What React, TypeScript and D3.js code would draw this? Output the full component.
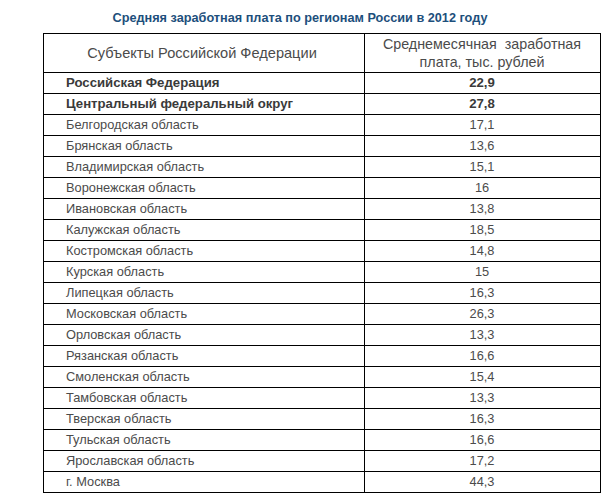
import React, { useRef, useEffect } from 'react';
import * as d3 from 'd3';

const title = 'Средняя заработная плата по регионам России в 2012 году';
const headerLeft = 'Субъекты Российской Федерации';
const headerRight = ['Среднемесячная  заработная', 'плата, тыс. рублей'];

const regions = [
  'Российская Федерация',
  'Центральный федеральный округ',
  'Белгородская область',
  'Брянская область',
  'Владимирская область',
  'Воронежская область',
  'Ивановская область',
  'Калужская область',
  'Костромская область',
  'Курская область',
  'Липецкая область',
  'Московская область',
  'Орловская область',
  'Рязанская область',
  'Смоленская область',
  'Тамбовская область',
  'Тверская область',
  'Тульская область',
  'Ярославская область',
  'г. Москва',
];

const wages = [
  22.9, 27.8, 17.1, 13.6, 15.1, 16, 13.8, 18.5, 14.8, 15, 16.3, 26.3, 13.3, 16.6, 15.4, 13.3, 16.3, 16.6, 17.2,
  44.3,
];

const boldRows = ['Российская Федерация', 'Центральный федеральный округ'];

const App = () => {
  const svgRef = useRef<SVGSVGElement>(null);
  const width = 606;
  const height = 494;

  useEffect(() => {
    const svg = d3.select(svgRef.current);
    svg.selectAll('*').remove();

    const left = 43;
    const right = 600;
    const divider = 364;
    const top = 33;
    const headerH = 39;
    const rowH = 21;

    const font = 'Arial, "Liberation Sans", sans-serif';
    const textColor = '#4b4b4b';

    // title
    svg.append('text')
      .attr('x', 300)
      .attr('y', 22)
      .attr('text-anchor', 'middle')
      .style('font-family', font)
      .style('font-size', '12.7px')
      .style('font-weight', 'bold')
      .style('fill', '#1d4f7c')
      .text(title);

    // rows
    const y = d3.scaleBand<string>()
      .domain(regions)
      .range([top + headerH, top + headerH + rowH * regions.length]);

    const fmt = (v: number) => String(v).replace('.', ',');

    // header
    svg.append('text')
      .attr('x', 202)
      .attr('y', top + headerH / 2 + 5)
      .attr('text-anchor', 'middle')
      .style('font-family', font)
      .style('font-size', '14.6px')
      .style('fill', textColor)
      .text(headerLeft);

    headerRight.forEach((line, i) => {
      svg.append('text')
        .attr('x', (divider + right) / 2)
        .attr('y', top + 16 + i * 18)
        .attr('text-anchor', 'middle')
        .style('font-family', font)
        .style('font-size', '14.3px')
        .style('fill', textColor)
        .style('white-space', 'pre')
        .text(line);
    });

    const rows = svg.selectAll('g.row')
      .data(regions)
      .enter()
      .append('g')
      .attr('class', 'row');

    const isBold = (d: string) => boldRows.includes(d);

    rows.append('text')
      .attr('x', left + 23)
      .attr('y', d => (y(d) as number) + rowH / 2 + 4.5)
      .style('font-family', font)
      .style('font-size', d => (isBold(d) ? '13.2px' : '12.8px'))
      .style('font-weight', d => (isBold(d) ? 'bold' : 'normal'))
      .style('fill', d => (isBold(d) ? '#3a3a3a' : textColor))
      .text(d => d);

    rows.append('text')
      .attr('x', (divider + right) / 2)
      .attr('y', d => (y(d) as number) + rowH / 2 + 4.5)
      .attr('text-anchor', 'middle')
      .style('font-family', font)
      .style('font-size', d => (isBold(d) ? '13.2px' : '12.8px'))
      .style('font-weight', d => (isBold(d) ? 'bold' : 'normal'))
      .style('fill', d => (isBold(d) ? '#3a3a3a' : textColor))
      .text((d, i) => fmt(wages[i]));

    // grid lines
    const bottom = top + headerH + rowH * regions.length;
    const hLines = [top, top + headerH, ...regions.map(r => (y(r) as number) + rowH)];
    hLines.forEach(yy => {
      svg.append('line')
        .attr('x1', left)
        .attr('x2', right + 1)
        .attr('y1', yy + 0.5)
        .attr('y2', yy + 0.5)
        .attr('stroke', '#000')
        .attr('stroke-width', 1);
    });

    [left, divider, right].forEach(xx => {
      svg.append('line')
        .attr('x1', xx + 0.5)
        .attr('x2', xx + 0.5)
        .attr('y1', top)
        .attr('y2', bottom + 1)
        .attr('stroke', '#000')
        .attr('stroke-width', 1);
    });
  }, []);

  return (
    <svg
      ref={svgRef}
      width={width}
      height={height}
      style={{ position: 'absolute', left: 0, top: 0, background: '#fff' }}
    ></svg>
  );
};

export default App;
